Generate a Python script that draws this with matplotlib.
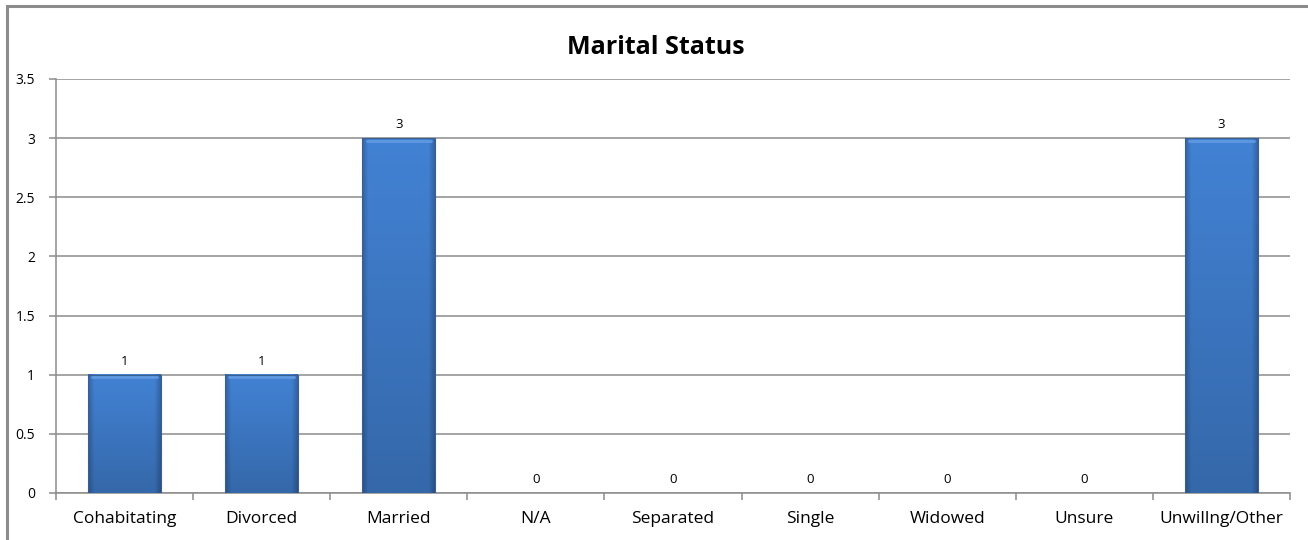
import numpy as np
import matplotlib.pyplot as plt
from matplotlib.colors import LinearSegmentedColormap
from matplotlib.patches import Rectangle

CATEGORIES = ["Cohabitating", "Divorced", "Married", "N/A", "Separated",
              "Single", "Widowed", "Unsure", "Unwillng/Other"]
COUNTS = [1, 1, 3, 0, 0, 0, 0, 0, 3]
Y_TICKS = [0, 0.5, 1, 1.5, 2, 2.5, 3, 3.5]

plt.rcParams['font.family'] = ['Open Sans', 'DejaVu Sans']

fig = plt.figure(figsize=(13.08, 5.4), dpi=100)
ax = fig.add_axes([56 / 1308, 47 / 540, 1234 / 1308, 414 / 540])

# frame around the chart (only left and top visible in the image)
fig.patches.append(Rectangle((7 / 1308, -0.1), 1.2, (540 - 6) / 540 + 0.1,
                             transform=fig.transFigure, fill=False,
                             edgecolor="#8c8c8c", linewidth=2.2))

# shaded bar colours: flat blue with slightly darker sides, darker toward bottom
cmap = LinearSegmentedColormap.from_list(
    "bar", [(0, "#3565a6"), (0.08, "#4282d4"), (0.92, "#4282d4"), (1, "#3565a6")])
width = 0.53
x = np.arange(len(CATEGORIES))
for xi, val in zip(x, COUNTS):
    if val <= 0:
        continue
    horiz = np.linspace(0, 1, 64)[None, :]
    vert = np.linspace(0.0, 1.0, 128)[:, None]
    img = cmap(np.repeat(horiz, 128, axis=0))
    shade = 0.80 + 0.20 * vert  # darker toward bottom
    img[..., :3] *= shade[..., None]
    ax.imshow(img, extent=(xi - width / 2, xi + width / 2, 0, val),
              origin="lower", aspect="auto", zorder=3, interpolation="bilinear")
    ax.add_patch(Rectangle((xi - width / 2, 0), width, val, fill=False,
                           edgecolor="#3a5f8f", linewidth=0.8, zorder=4))
    # light top edge
    ax.plot([xi - width / 2 + 0.03, xi + width / 2 - 0.03], [val - 0.02, val - 0.02],
            color="#5f98e0", linewidth=2, zorder=5, solid_capstyle="round")

for xi, val in zip(x, COUNTS):
    ax.text(xi, val + 0.06, str(val), ha="center", va="bottom", fontsize=9.5)

ax.set_xlim(-0.5, len(CATEGORIES) - 0.5)
ax.set_ylim(0, 3.5)
ax.set_yticks(Y_TICKS)
ax.set_yticklabels([f"{t:g}" for t in Y_TICKS], fontsize=10)
ax.yaxis.grid(True, color="#8c8c8c", linewidth=1.1)
ax.set_axisbelow(True)

ax.set_xticks(x)
ax.set_xticklabels(CATEGORIES, fontsize=12.5)
ax.tick_params(axis="x", length=0, pad=13)
ax.set_xticks(np.arange(-0.5, len(CATEGORIES)), minor=True)
ax.tick_params(axis="x", which="minor", length=5, color="#8c8c8c", width=1.1)
ax.tick_params(axis="y", length=5, color="#8c8c8c", width=1.1, pad=10)

for side in ["top", "right"]:
    ax.spines[side].set_visible(False)
for side in ["left", "bottom"]:
    ax.spines[side].set_color("#8c8c8c")
    ax.spines[side].set_linewidth(1.1)

fig.text(656 / 1308, 1 - 47 / 540, "Marital Status", ha="center", va="center",
         fontsize=18, fontweight="bold")

fig.savefig("out.png", dpi=100)
